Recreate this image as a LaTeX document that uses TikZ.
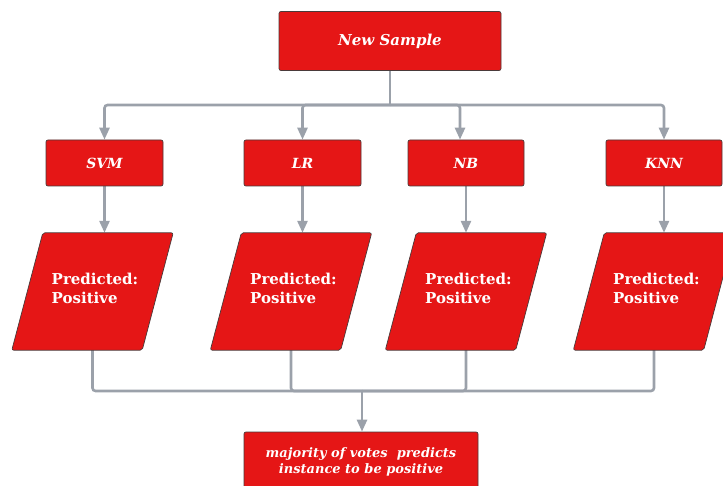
\documentclass[tikz,border=0pt]{standalone}
\usepackage{fontspec}
\setmainfont{DejaVu Serif}
\usetikzlibrary{arrows.meta,backgrounds,calc}
\definecolor{boxred}{HTML}{E51616}
\definecolor{linegray}{HTML}{9BA1AA}
\definecolor{edgedark}{HTML}{4A3A3A}
\pgfdeclarelayer{wires}
\pgfsetlayers{wires,background,main}
\begin{document}
\begin{tikzpicture}[x=1pt,y=-1pt,
  box/.style={draw=edgedark, line width=0.7pt, fill=boxred, rounded corners=2pt,
    text=white, inner sep=0pt, font=\bfseries\itshape\fontsize{14}{16}\selectfont},
  paraframe/.style={draw=none, fill=none, minimum width=161pt, minimum height=117pt, inner sep=0pt},
  parafill/.style={draw=edgedark, line width=0.7pt, fill=boxred, rounded corners=2pt},
  paratext/.style={text=white, align=left, inner sep=0pt, font=\bfseries\fontsize{15}{19}\selectfont},
  conn/.style={draw=linegray, line width=2.6pt, rounded corners=3pt},
  arr/.style={conn, -{Triangle[length=12pt,width=10pt]}}]
\useasboundingbox (0,0) rectangle (723,486);
\clip (0,0) rectangle (723,486);

\node[box, minimum width=222pt, minimum height=59pt, font=\bfseries\itshape\fontsize{15}{18}\selectfont] (ns) at (390,41) {New Sample};

\node[box, minimum width=117pt, minimum height=46pt] (svm) at (104.5,163) {SVM};
\node[box, minimum width=117pt, minimum height=46pt] (lr)  at (302.5,163) {LR};
\node[box, minimum width=116pt, minimum height=46pt] (nb)  at (466,163) {NB};
\node[box, minimum width=116pt, minimum height=46pt] (knn) at (664,163) {KNN};

\node[paraframe] (p1) at (92.5,291.5) {};
\node[paraframe] (p2) at (291,291.5) {};
\node[paraframe] (p3) at (466,291.5) {};
\node[paraframe] (p4) at (654,291.5) {};

\node[paratext] (t1) at ($(p1.center)+(2.5,-3.5)$) {Predicted:\\ Positive};
\node[paratext] (t2) at ($(p2.center)+(2.5,-3.5)$) {Predicted:\\ Positive};
\node[paratext] (t3) at ($(p3.center)+(2.5,-3.5)$) {Predicted:\\ Positive};
\node[paratext] (t4) at ($(p4.center)+(2.5,-3.5)$) {Predicted:\\ Positive};

\node[box, minimum width=234pt, minimum height=60pt, align=center,
  font=\bfseries\itshape\fontsize{13}{16}\selectfont] (res) at (361,462)
  {majority of votes\ \ predicts\\ instance to be positive};

\coordinate (bus1) at (390,105);
\coordinate (bus2) at (362,391);

\begin{pgfonlayer}{background}
\foreach \p in {p1,p2,p3,p4}{
  \path[parafill] ($(\p.north west)+(31,0)$) -- (\p.north east)
     -- ($(\p.south east)+(-31,0)$) -- (\p.south west) -- cycle;
}
\end{pgfonlayer}

\begin{pgfonlayer}{wires}
\draw[conn] (ns.south) -- (bus1);
\draw[arr] (bus1) -| (svm.north);
\draw[arr] (bus1) -| (lr.north);
\draw[arr] (bus1) -| ($(nb.north)+(-6,0)$);
\draw[arr] (bus1) -| (knn.north);
\draw[arr] (svm.south) -- (svm.south |- p1.north);
\draw[arr] (lr.south) -- (lr.south |- p2.north);
\draw[arr] (nb.south) -- (nb.south |- p3.north);
\draw[arr] (knn.south) -- (knn.south |- p4.north);
\draw[conn] (p1.center) |- (bus2);
\draw[conn] (p2.center) |- (bus2);
\draw[conn] (p3.center) |- (bus2);
\draw[conn] (p4.center) |- (bus2);
\draw[arr] (bus2) -- (bus2 |- res.north);
\end{pgfonlayer}
\end{tikzpicture}
\end{document}
